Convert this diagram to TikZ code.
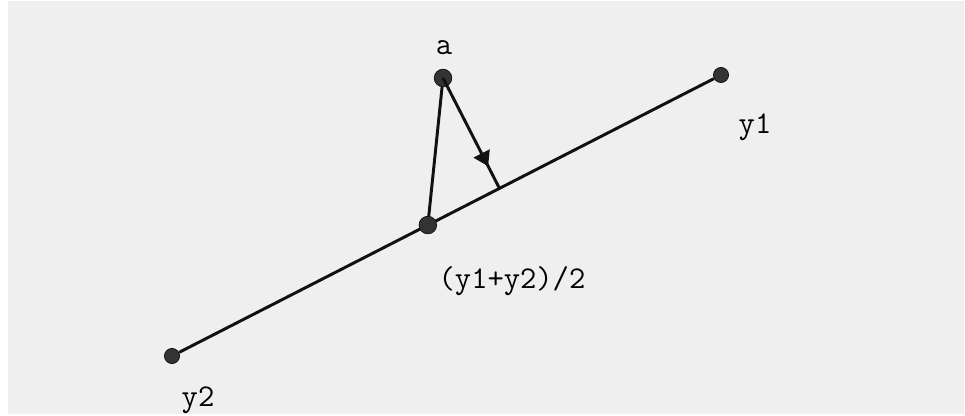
\documentclass[tikz,border=0pt]{standalone}
\usepackage{fontspec}
\usepackage{tikz}
\usetikzlibrary{arrows.meta,calc,decorations.markings}
\definecolor{cBack}{HTML}{EFEFEF}
\definecolor{cDot}{HTML}{333333}
\definecolor{cLine}{HTML}{111111}
\tikzset{
  dot/.style={circle, fill=cDot, draw=cLine, line width=0.5pt, inner sep=0pt, minimum size=4.4mm},
  enddot/.style={dot, minimum size=3.8mm},
  seg/.style={cLine, line width=2.1pt},
  midarr/.style={seg, postaction={decorate}, decoration={markings,
      mark=at position 0.8 with {\arrow{Triangle[length=3.6mm, width=4.4mm]}}}},
  lbl/.style={font=\ttfamily\fontsize{22.5}{26}\selectfont, text=black, inner sep=0pt}
}

\begin{document}
\begin{tikzpicture}[x=0.025cm, y=-0.025cm]
% canvas
\useasboundingbox (0,0) rectangle (965,415);
\fill[cBack] (8,1) rectangle (964,414);
% end points and the point a
\node[enddot] (y1) at (721,75) {};
\node[enddot] (y2) at (172,356) {};
\node[dot] (a) at (443,78) {};
\coordinate (m) at ($(y2)!0.466!(y1)$);
\coordinate (foot) at ($(y2)!(a)!(y1)$);
% segments
\draw[seg] (y2) -- (y1);
\draw[seg] (a) -- (m);
\draw[midarr] (a.center) -- (foot);
\node[dot] (mid) at (m) {};
% labels
\node[lbl] (la) at (444,48) {a};
\node[lbl] (ly1) at (755,127) {y1};
\node[lbl] (ly2) at (198,400) {y2};
\node[lbl] (lmid) at (512,281) {(y1+y2)/2};
\end{tikzpicture}
\end{document}
